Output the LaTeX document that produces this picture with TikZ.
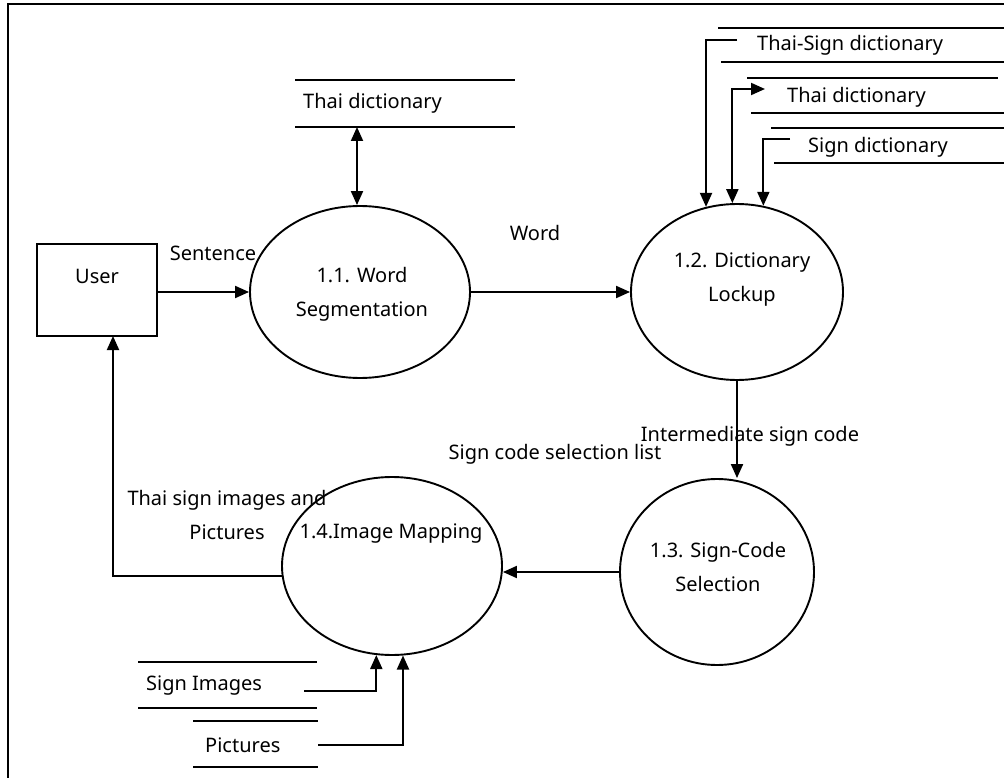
\documentclass[tikz,border=0pt]{standalone}
\usepackage{fontspec}
\setmainfont{Noto Sans}
\usetikzlibrary{shapes.geometric,arrows.meta}
\tikzset{
  ln/.style={line width=1.9pt},
  fl/.style={line width=2pt,-{Triangle[length=14pt,width=12pt]}},
  fl2/.style={line width=2pt,{Triangle[length=14pt,width=12pt]}-{Triangle[length=14pt,width=12pt]}},
  proc/.style={draw,ellipse,line width=1.9pt,inner sep=0pt},
  txt/.style={inner sep=0pt,font=\fontsize{20}{24}\selectfont},
  ctxt/.style={txt,align=center}
}
\begin{document}
\begin{tikzpicture}[x=1pt,y=-1pt]
\useasboundingbox (0,0) rectangle (1004,778);
% frame
\draw[ln] (8,778) -- (8,4) -- (1004,4);
% user
\node[draw,line width=1.9pt,minimum width=120pt,minimum height=92pt,inner sep=0pt] (user) at (97,290) {};
\node[txt] (usert) at (97,276) {User};
\coordinate (uin) at (113,336);
% processes
\node[proc,minimum width=220pt,minimum height=172pt] (e11) at (360,292) {};
\node[ctxt] (e11t) at (362,294) {1.1. Word\\[10pt]Segmentation};
\node[proc,minimum width=212pt,minimum height=176pt] (e12) at (737,292) {};
\node[ctxt] (e12t) at (742,280) {1.2. Dictionary\\[10pt]Lockup};
\node[proc,minimum width=194pt,minimum height=186pt] (e13) at (717,572) {};
\node[ctxt] (e13t) at (718,567) {1.3. Sign-Code\\[10pt]Selection};
\node[proc,minimum width=220pt,minimum height=178pt] (e14) at (392,566) {};
\node[txt] (e14t) at (391,534) {1.4.Image Mapping};
% data store: Thai dictionary (left)
\draw[ln] (295,80) -- (515,80);
\draw[ln] (295,127) -- (515,127);
\node[txt,anchor=west] (ds1) at (303,103) {Thai dictionary};
\coordinate (ds1b) at (357,127);
% top-right stores
\draw[ln] (718,28) -- (1004,28);
\draw[ln] (721,62) -- (1004,62);
\node[txt,anchor=west] (ds2) at (757,45) {Thai-Sign dictionary};
\coordinate (ds2a) at (737,40);
\draw[ln] (747,78) -- (998,78);
\draw[ln] (751,113) -- (1004,113);
\node[txt,anchor=west] (ds3) at (787,97) {Thai dictionary};
\coordinate (ds3a) at (765,89);
\draw[ln] (771,128) -- (1004,128);
\draw[ln] (774,163) -- (1004,163);
\node[txt,anchor=west] (ds4) at (808,147) {Sign dictionary};
\coordinate (ds4a) at (790,139);
% bottom stores
\draw[ln] (138,662) -- (317,662);
\draw[ln] (138,708) -- (317,708);
\node[txt,anchor=west] (ds5) at (146,686) {Sign Images};
\coordinate (ds5a) at (304,691);
\draw[ln] (193,721) -- (318,721);
\draw[ln] (193,767) -- (318,767);
\node[txt,anchor=west] (ds6) at (205,745) {Pictures};
\coordinate (ds6a) at (318,745);
% flows
\draw[fl] (user.east |- e11.west) -- (e11.west);
\node[txt] (lsent) at (213,253) {Sentence};
\draw[fl2] (ds1b) -- (e11.north -| ds1b);
\draw[fl] (e11.east) -- (e12.west);
\node[txt] (lword) at (535,233) {Word};
\draw[fl] (ds2a) -| (e12.110);
\draw[fl2] (e12.93) |- (ds3a);
\draw[fl] (ds4a) -| (e12.73);
\draw[fl] (e12.south) -- (e12.south |- e13.north);
\node[txt] (lint) at (750,436) {Intermediate sign code};
\draw[fl] (e13.west) -- (e14.east |- e13.west);
\node[txt] (lscs) at (555,454) {Sign code selection list};
\draw[fl] (e14.185) -| (uin);
\node[ctxt] (ltsi) at (227,515) {Thai sign images and\\[10pt]Pictures};
\draw[fl] (ds5a) -| (e14.260);
\draw[fl] (ds6a) -| (e14.277);
\end{tikzpicture}
\end{document}
